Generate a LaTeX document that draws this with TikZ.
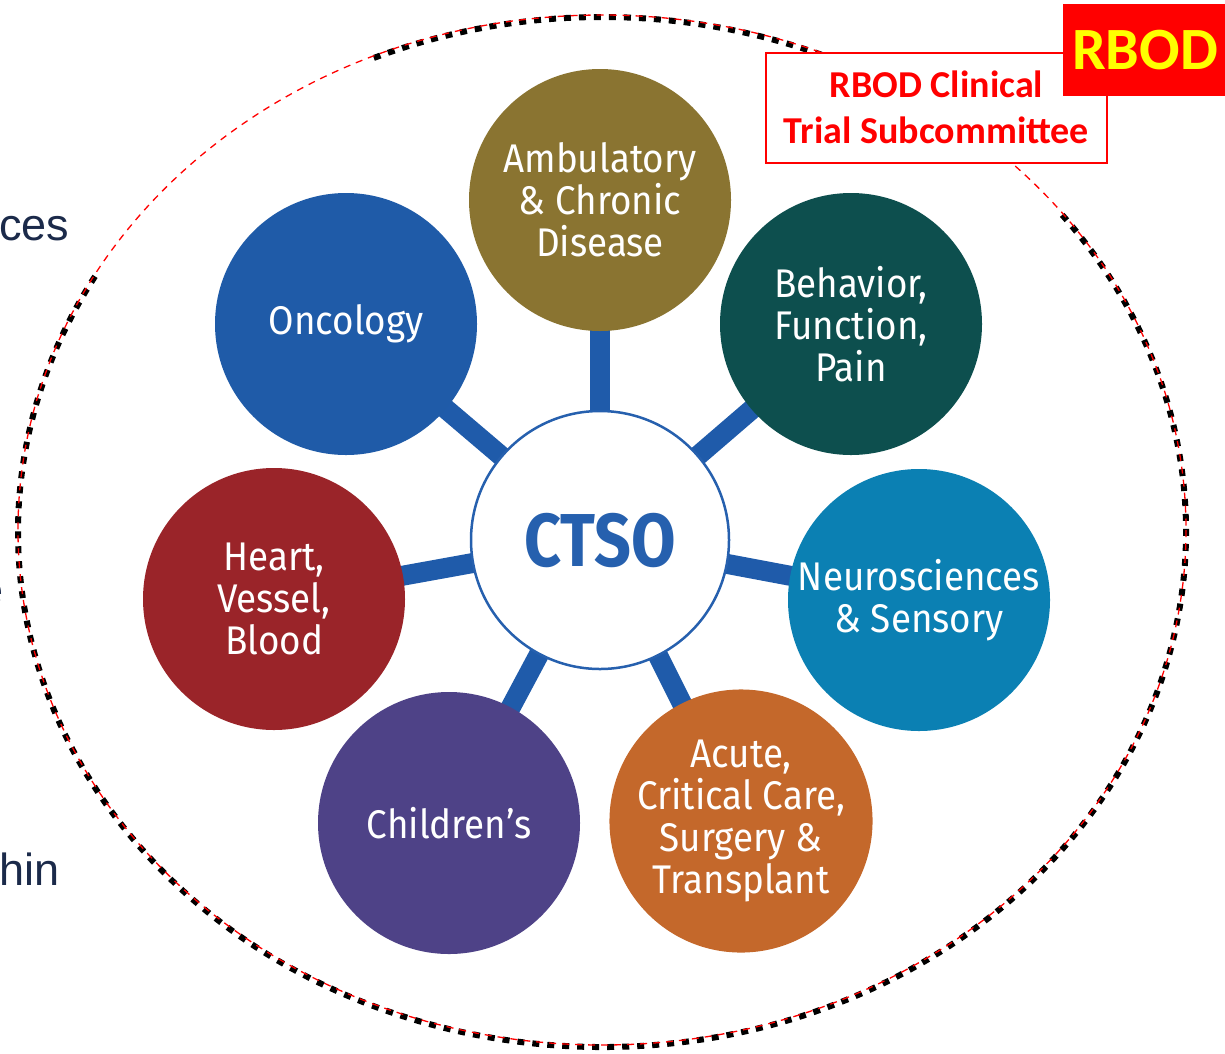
\documentclass[tikz,border=0pt]{standalone}
\usepackage{fontspec}
\setmainfont{Fira Sans}
\newfontfamily\condfont[FakeStretch=0.92]{Fira Sans}
\newfontfamily\ctsofont[FakeStretch=0.86]{Fira Sans}
\newfontfamily\calfont{Carlito}
\newfontfamily\arialfont{Liberation Sans}
\definecolor{ambcol}{HTML}{8A7431}
\definecolor{behcol}{HTML}{0D4F4E}
\definecolor{neucol}{HTML}{0B80B3}
\definecolor{acucol}{HTML}{C4682B}
\definecolor{chicol}{HTML}{4E4287}
\definecolor{heacol}{HTML}{9A2429}
\definecolor{onccol}{HTML}{1F5BA8}
\definecolor{barblue}{HTML}{1F5BAA}
\definecolor{ctsoblue}{HTML}{2660AE}
\definecolor{navytext}{HTML}{1B2A4A}
\definecolor{rbodred}{HTML}{FF0000}
\definecolor{rbodyellow}{HTML}{FFFF00}
\pgfdeclarelayer{bg}
\pgfsetlayers{bg,main}
\begin{document}
\begin{tikzpicture}[x=1pt,y=-1pt,
  topic/.style={circle, minimum size=262pt, inner sep=0pt, text=white, align=center,
    font={\condfont\fontsize{40}{42}\selectfont}},
  hubnode/.style={circle, minimum size=258pt, inner sep=0pt, fill=white, draw=ctsoblue,
    line width=2.5pt, text=ctsoblue, font={\ctsofont\bfseries\fontsize{75}{75}\selectfont}},
  bar/.style={line width=20pt, draw=barblue},
  sidetext/.style={inner sep=0pt, text=navytext, font={\arialfont\fontsize{45}{45}\selectfont}},
  shadowdash/.style={line width=6pt, black, dash pattern=on 7pt off 8pt},
  reddash/.style={line width=1.3pt, rbodred, dash pattern=on 7pt off 6pt}
]
\path[use as bounding box] (0,0) rectangle (1225,1053);
\clip (0,0) rectangle (1225,1053);

% dashed ellipse
\draw[shadowdash] (602,532) ++(-38:584 and 515) arc[start angle=-38, end angle=210, x radius=584, y radius=515];
\draw[shadowdash] (602,532) ++(-113:584 and 515) arc[start angle=-113, end angle=-60, x radius=584, y radius=515];
\draw[reddash] (602,530) ellipse[x radius=584, y radius=515];

% side text fragments
\node[sidetext, anchor=base west] (t1) at (-1,240) {ces};
\node[sidetext, anchor=base east] (t2) at (4,605) {e};
\node[sidetext, anchor=base west] (t3) at (-1,885) {hin};

% hub
\node[hubnode] (ctso) at (600,540) {CTSO};

% topics
\node[topic, fill=ambcol] (amb) at (600,200) {Ambulatory\\\& Chronic\\Disease};
\node[topic, fill=behcol] (beh) at (851,324) {Behavior,\\Function,\\Pain};
\node[topic, fill=neucol] (neu) at (919,600) {Neurosciences\\\& Sensory};
\node[topic, fill=acucol] (acu) at (741,821) {Acute,\\Critical Care,\\Surgery \&\\Transplant};
\node[topic, fill=chicol] (chi) at (449,823) {Children’s};
\node[topic, fill=heacol] (hea) at (274,599) {Heart,\\Vessel,\\Blood};
\node[topic, fill=onccol] (onc) at (346,324) {Oncology};

% bars
\begin{pgfonlayer}{bg}
\foreach \t in {amb,beh,neu,acu,chi,hea,onc}
  \draw[bar] (ctso.center) -- (\t.center);
\end{pgfonlayer}

% RBOD labels
\node[draw=rbodred, line width=2pt, fill=white, minimum width=341pt, minimum height=110pt,
  inner sep=0pt, align=center, text=rbodred,
  font={\calfont\bfseries\fontsize{38}{46}\selectfont}] (clin) at (936.5,107.5)
  {RBOD Clinical\\Trial Subcommittee};
\node[fill=rbodred, minimum width=170pt, minimum height=92pt, inner sep=0pt,
  text=rbodyellow, font={\calfont\bfseries\fontsize{60}{60}\selectfont}] (rbod) at (1148,50)
  {\hspace*{-6pt}RBOD};
\end{tikzpicture}
\end{document}
